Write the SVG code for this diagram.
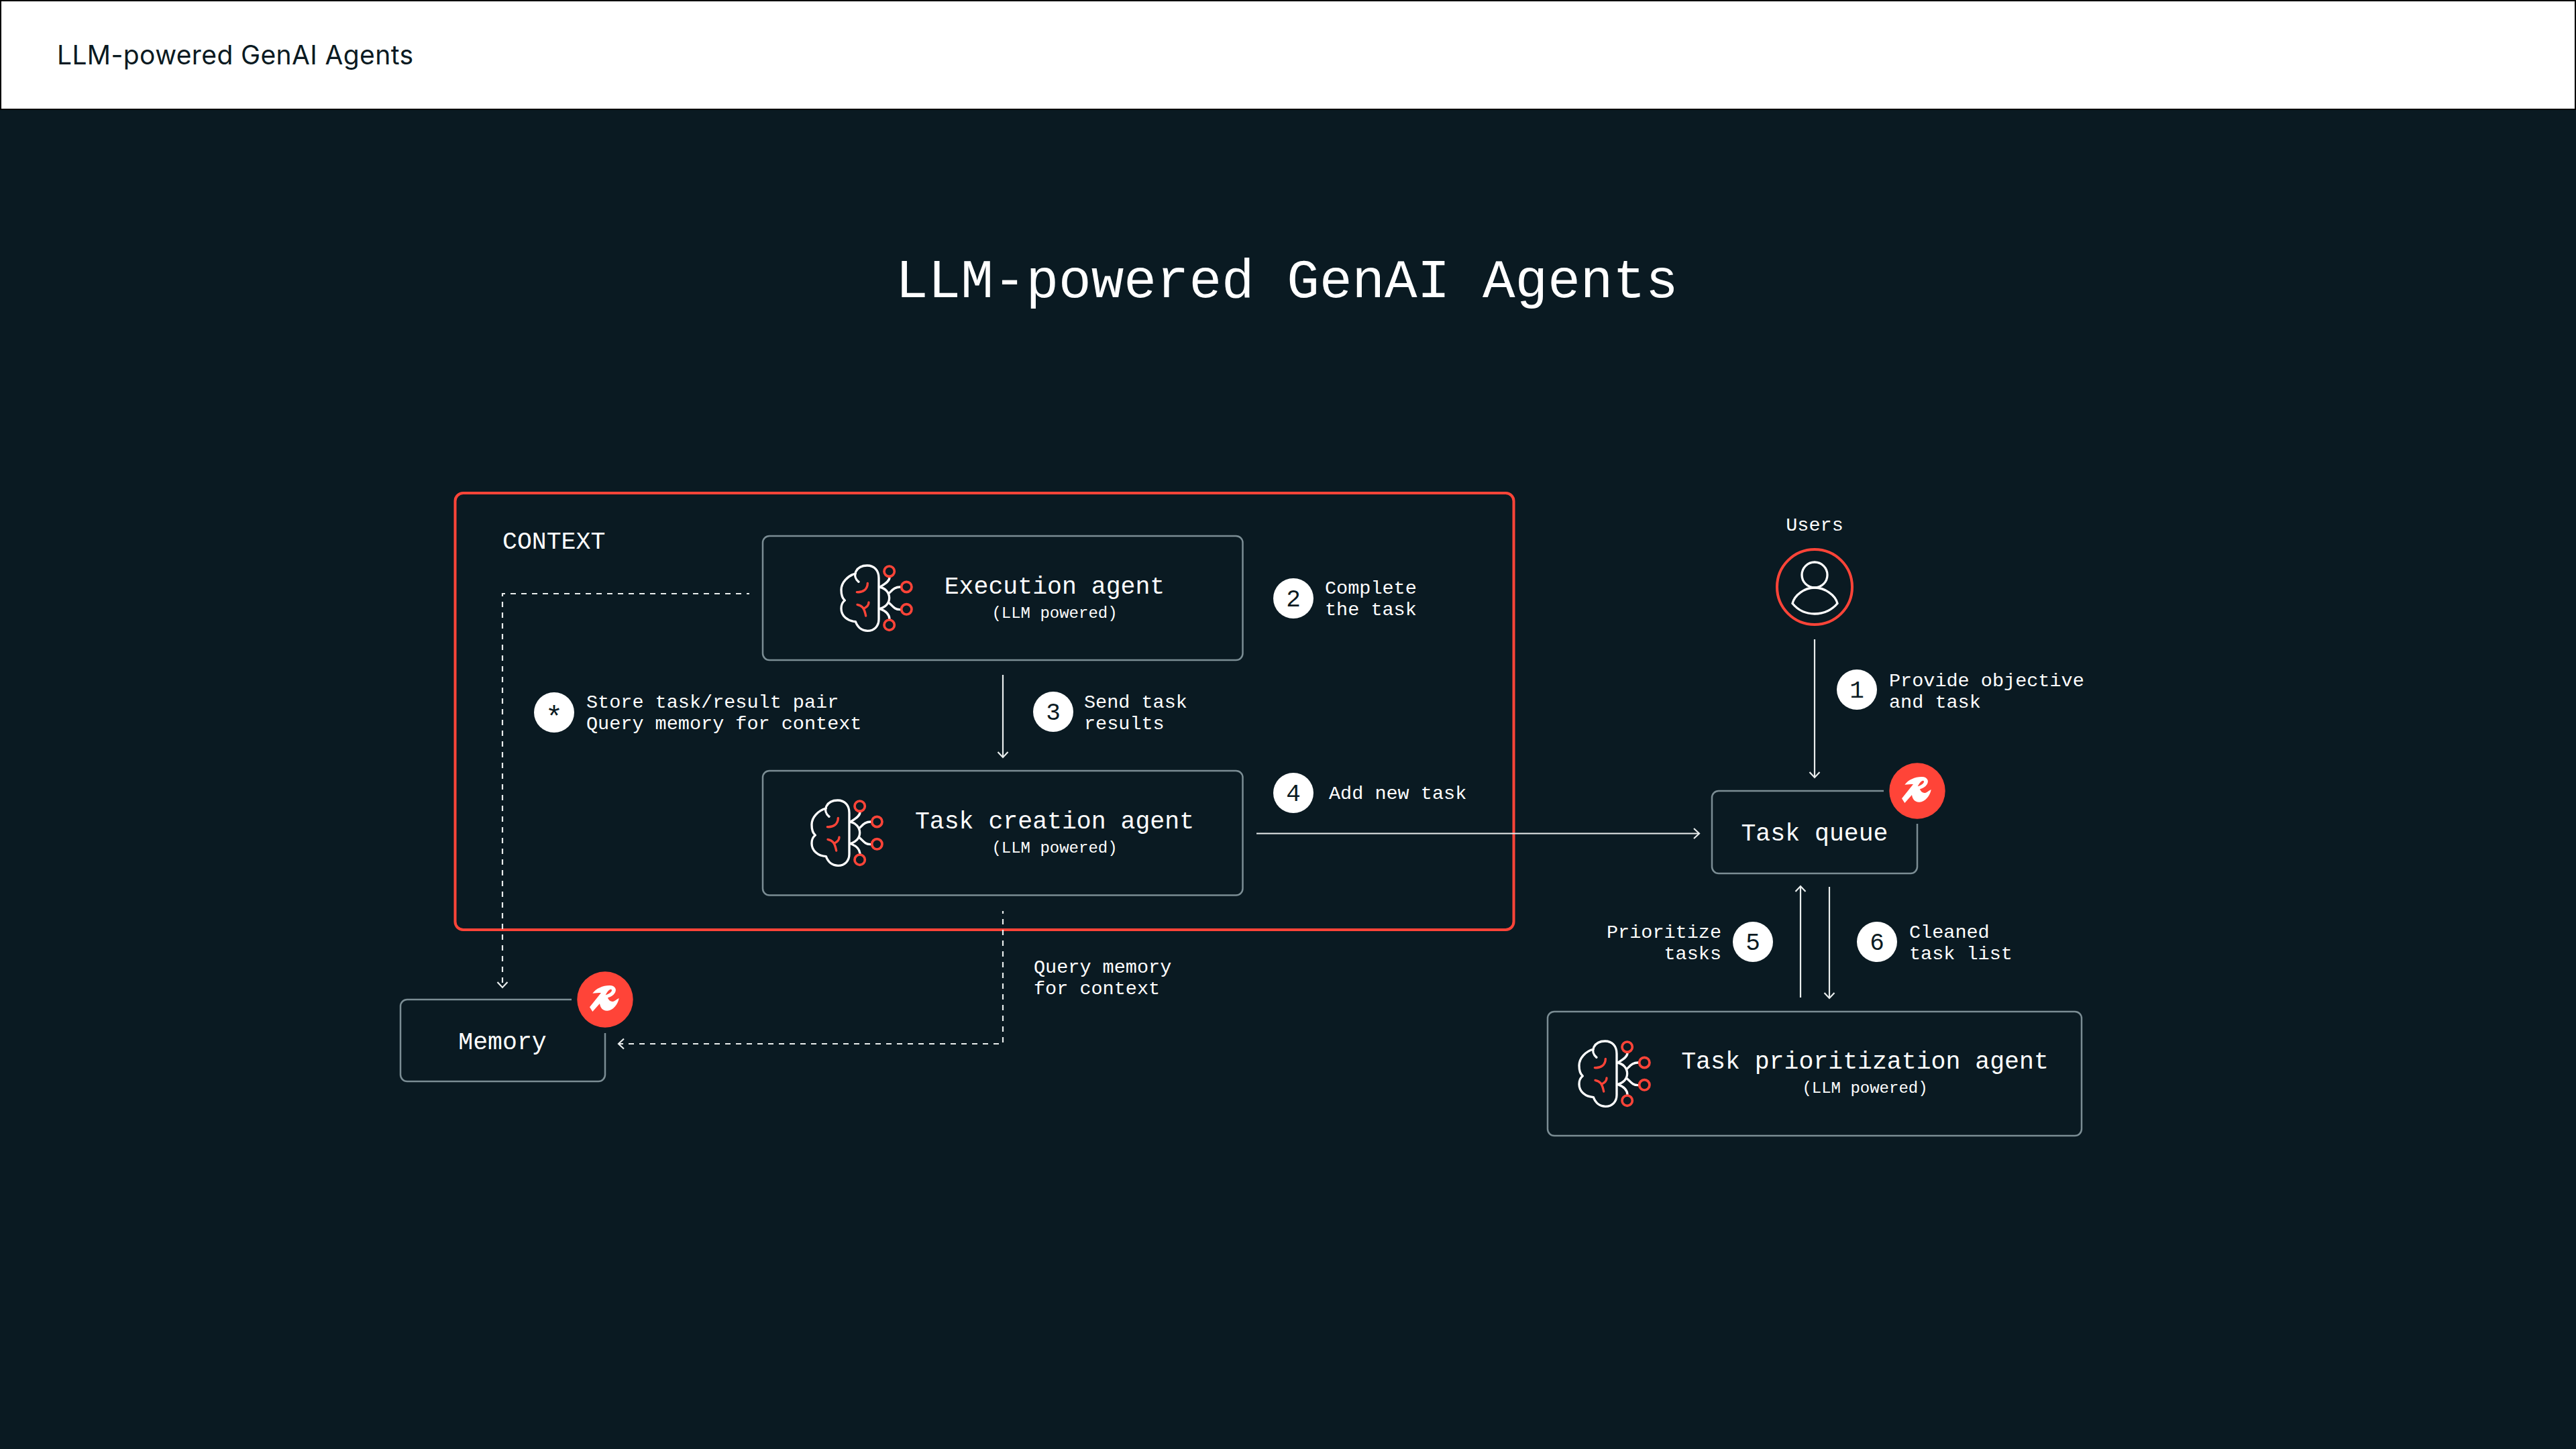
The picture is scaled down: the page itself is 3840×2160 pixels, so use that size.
<svg xmlns="http://www.w3.org/2000/svg" xmlns:xlink="http://www.w3.org/1999/xlink" width="3840" height="2160" viewBox="0 0 3840 2160">
<style>
text{font-family:"Liberation Mono","DejaVu Sans Mono",monospace;fill:#fff}
.head{font-family:"Inter","Liberation Sans",sans-serif;font-size:39px;fill:#0a1a22}
.title{font-size:81px}
.big{font-size:36.5px}
.sub{font-size:24px}
.lab{font-size:28.5px}
.num{font-size:36px;fill:#0a1a22;text-anchor:middle}
.mid{text-anchor:middle}
.end{text-anchor:end}
.box{fill:none;stroke:#7b8d94;stroke-width:2.5}
.conn{fill:none;stroke:#e9eded;stroke-width:2.2}
.dash{stroke-dasharray:8 8}
.dot{fill:#fff}
.w{fill:none;stroke:#fff;stroke-width:10;stroke-linecap:round;stroke-linejoin:round}
.r{fill:none;stroke:#ff4438;stroke-width:10;stroke-linecap:round}
</style>
<defs>
<marker id="arrow" markerUnits="userSpaceOnUse" markerWidth="24" markerHeight="24" refX="12" refY="12" orient="auto" viewBox="0 0 24 24">
<path d="M4,4.5 L12,12 L4,19.5" fill="none" stroke="#e9eded" stroke-width="2.2"/>
</marker>
<g id="brain" transform="scale(.3333)">
<path class="w" d="M180,142 C165,130 160,112 168,95 C178,76 198,69 218,69 C250,69 270,92 270,125 V310 C270,340 250,361 220,361 C195,361 175,345 166,320 C130,318 102,295 102,262 C102,245 108,232 118,225 C108,217 102,200 102,178 C102,145 130,115 166,105"/>
<path class="w" d="M272,165 C300,170 317,190 317,214 C317,238 300,257 272,263"/>
<path class="w" d="M276,165 C295,152 318,140 318,122 M316,193 C330,180 340,164 368,165 M316,236 C330,248 340,268 368,266 M276,263 C300,272 318,285 318,310"/>
<path class="r" d="M220,148 C220,175 200,190 172,188 M174,244 C195,248 205,258 212,294 M225,234 C225,245 215,255 206,260"/>
<g fill="none" stroke="#ff4438" stroke-width="11">
<circle cx="317" cy="95" r="23"/><circle cx="394" cy="165" r="23"/><circle cx="394" cy="265" r="23"/><circle cx="317" cy="335" r="23"/>
</g>
</g>
<g id="badge">
<circle r="41.7" fill="#ff4438"/>
<g transform="scale(.3333)">
<path fill="#fff" d="M-56,-28 C-40,-50 -8,-64 22,-63 C44,-62 54,-46 44,-30 C37,-18 24,-11 12,-8 C16,5 28,12 38,8 C46,5 55,-3 62,-6 C58,22 32,52 8,50 C-12,50 -22,35 -24,18 L-56,54 L-69,34 L-18,-30 C-30,-30 -45,-28 -56,-28 Z"/>
<path fill="#ff4438" d="M2,-20 C10,-35 20,-48 28,-45 C34,-42 28,-28 2,-20 Z"/>
</g>
</g>
</defs>
<rect width="3840" height="2160" fill="#0a1a22"/>
<g id="header">
<rect width="3840" height="164" fill="#000"/>
<rect x="2" y="2" width="3836" height="160" fill="#fff"/>
<text class="head" x="85" y="96" textLength="531">LLM-powered GenAI Agents</text>
</g>
<text class="title" x="1335" y="443">LLM-powered GenAI Agents</text>
<g id="context">
<rect x="678.5" y="735" width="1578" height="651" rx="12" fill="none" stroke="#ff4438" stroke-width="4"/>
<text class="big" x="749" y="818">CONTEXT</text>
</g>
<g id="connectors">
<path class="conn dash" stroke-dashoffset="4" d="M1117,885 H749 V1472" marker-end="url(#arrow)"/>
<path class="conn dash" stroke-dashoffset="4" d="M1495,1358 V1556 H922" marker-end="url(#arrow)"/>
<path class="conn" d="M1495,1006 V1129" marker-end="url(#arrow)"/>
<path class="conn" d="M1873,1242.5 H2533" marker-end="url(#arrow)"/>
<path class="conn" d="M2705,953 V1159" marker-end="url(#arrow)"/>
<path class="conn" d="M2684,1487 V1321" marker-end="url(#arrow)"/>
<path class="conn" d="M2727,1322 V1488" marker-end="url(#arrow)"/>
</g>
<g id="execution-agent">
<rect class="box" x="1137" y="799" width="715.5" height="185" rx="10"/>
<use xlink:href="#brain" href="#brain" x="1220" y="820"/>
<text class="big mid" x="1572" y="885">Execution agent</text>
<text class="sub mid" x="1572" y="921">(LLM powered)</text>
</g>
<g id="task-creation-agent">
<rect class="box" x="1137" y="1149" width="715.5" height="185.5" rx="10"/>
<use xlink:href="#brain" href="#brain" x="1176" y="1170"/>
<text class="big mid" x="1572" y="1235">Task creation agent</text>
<text class="sub mid" x="1572" y="1271">(LLM powered)</text>
</g>
<g id="task-prioritization-agent">
<rect class="box" x="2307" y="1508" width="796" height="185" rx="10"/>
<use xlink:href="#brain" href="#brain" x="2320" y="1529"/>
<text class="big mid" x="2780" y="1593">Task prioritization agent</text>
<text class="sub mid" x="2780" y="1629">(LLM powered)</text>
</g>
<g id="task-queue">
<path class="box" d="M2808,1179 H2562 a10,10 0 0 0 -10,10 V1292 a10,10 0 0 0 10,10 H2848 a10,10 0 0 0 10,-10 V1228"/>
<use xlink:href="#badge" href="#badge" x="2858" y="1179"/>
<text class="big mid" x="2705" y="1253">Task queue</text>
</g>
<g id="memory">
<path class="box" d="M852,1490 H607 a10,10 0 0 0 -10,10 V1602 a10,10 0 0 0 10,10 H892 a10,10 0 0 0 10,-10 V1540"/>
<use xlink:href="#badge" href="#badge" x="902" y="1490"/>
<text class="big mid" x="749" y="1564">Memory</text>
</g>
<g id="users">
<text class="lab mid" x="2705" y="791">Users</text>
<circle cx="2705" cy="875" r="56" fill="none" stroke="#ff4438" stroke-width="4"/>
<circle cx="2705" cy="857" r="19" fill="none" stroke="#fff" stroke-width="3.3"/>
<path fill="none" stroke="#fff" stroke-width="3.3" d="M2672,899.5 C2675,887 2690,876 2705,876 C2720,876 2736,887 2739,899.5 C2732,908 2720,915 2705,915 C2690,915 2679,908 2672,899.5 Z"/>
</g>
<g id="step-1"><circle class="dot" cx="2768" cy="1028" r="30"/><text class="num" x="2768" y="1040">1</text><text class="lab" x="2816" y="1023">Provide objective</text><text class="lab" x="2816" y="1055">and task</text></g>
<g id="step-2"><circle class="dot" cx="1928" cy="892" r="30"/><text class="num" x="1928" y="904">2</text><text class="lab" x="1975" y="885">Complete</text><text class="lab" x="1975" y="917">the task</text></g>
<g id="step-3"><circle class="dot" cx="1570" cy="1061" r="30"/><text class="num" x="1570" y="1073">3</text><text class="lab" x="1616" y="1055">Send task</text><text class="lab" x="1616" y="1087">results</text></g>
<g id="step-4"><circle class="dot" cx="1928" cy="1182" r="30"/><text class="num" x="1928" y="1194">4</text><text class="lab" x="1981" y="1191">Add new task</text></g>
<g id="step-5"><circle class="dot" cx="2613" cy="1404" r="30"/><text class="num" x="2613" y="1416">5</text><text class="lab end" x="2566" y="1398">Prioritize</text><text class="lab end" x="2566" y="1430">tasks</text></g>
<g id="step-6"><circle class="dot" cx="2798" cy="1404" r="30"/><text class="num" x="2798" y="1416">6</text><text class="lab" x="2846" y="1398">Cleaned</text><text class="lab" x="2846" y="1430">task list</text></g>
<g id="step-star"><circle class="dot" cx="826" cy="1062" r="30"/><text class="num" x="826" y="1083" style="font-size:44px">*</text><text class="lab" x="874" y="1055">Store task/result pair</text><text class="lab" x="874" y="1087">Query memory for context</text></g>
<g id="query-label"><text class="lab" x="1541" y="1450">Query memory</text><text class="lab" x="1541" y="1482">for context</text></g>
</svg>
